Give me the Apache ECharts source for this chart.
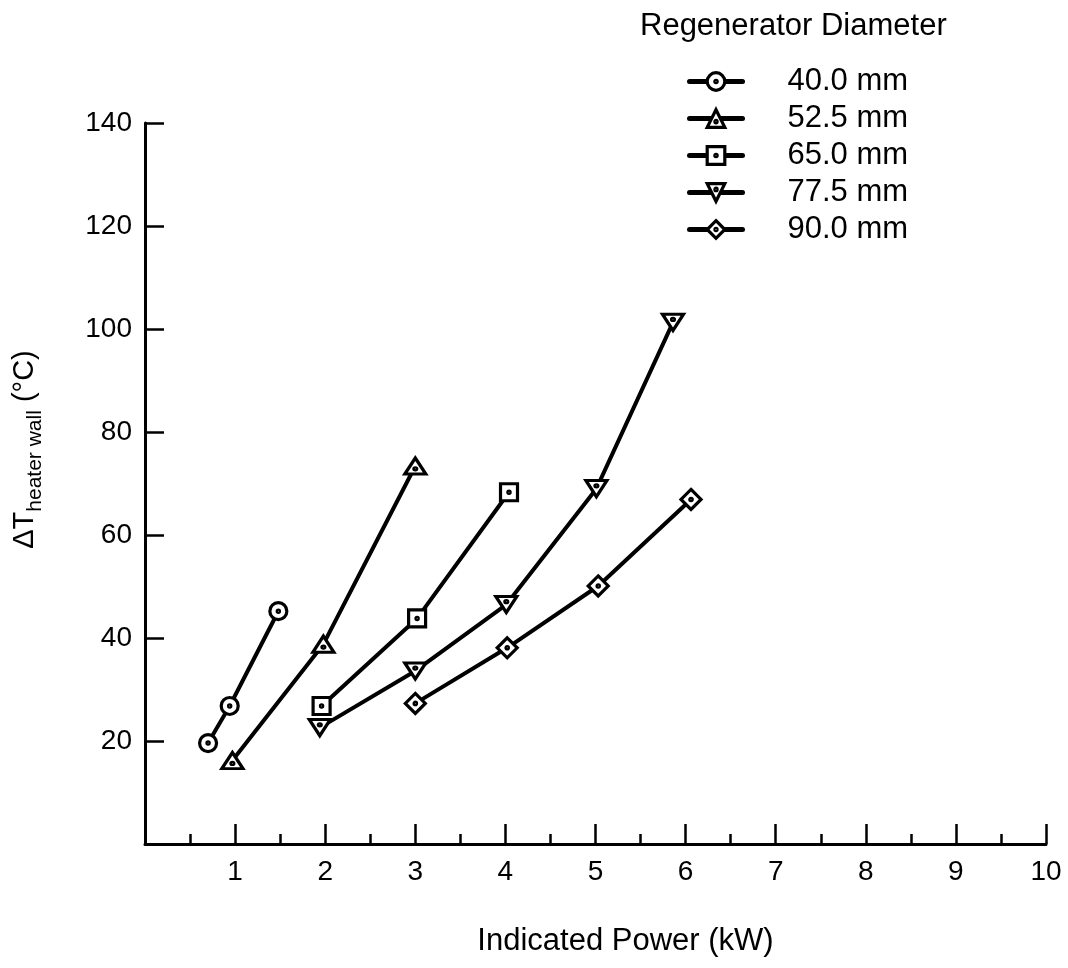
<!DOCTYPE html>
<html>
<head>
<meta charset="utf-8">
<script src="https://cdn.jsdelivr.net/npm/echarts@6/dist/echarts.min.js"></script>
<style>
  html, body { margin: 0; padding: 0; background: #fff; }
  #chart { width: 1068px; height: 968px; }
</style>
</head>
<body>
<div id="chart"></div>
<script>
// ---- Data ----
const seriesNames = ['40.0 mm', '52.5 mm', '65.0 mm', '77.5 mm', '90.0 mm'];

const power40 = [0.70, 0.94, 1.48];
const dT40    = [19.6, 26.8, 45.2];

const power52 = [0.97, 1.98, 3.00];
const dT52    = [16.2, 38.8, 73.4];

const power65 = [1.96, 3.02, 4.04];
const dT65    = [26.8, 43.8, 68.3];

const power77 = [1.94, 3.00, 4.01, 5.01, 5.86];
const dT77    = [22.6, 33.6, 46.5, 69.0, 101.3];

const power90 = [3.00, 4.02, 5.03, 6.06];
const dT90    = [27.3, 38.1, 50.1, 66.9];

const xTickLabels = ['1', '2', '3', '4', '5', '6', '7', '8', '9', '10'];
const yTickLabels = ['20', '40', '60', '80', '100', '120', '140'];

// ---- Marker shapes (outline + centre dot) ----
const dot = (cx, cy) => `M${cx - 1.2},${cy} A1.2,1.2 0 1,1 ${cx + 1.2},${cy} A1.2,1.2 0 1,1 ${cx - 1.2},${cy} Z`;
const symbols = [
  'path://M1,10 A9,9 0 1,1 19,10 A9,9 0 1,1 1,10 Z ' + dot(10, 10),
  'path://M10,1 L19.5,18 L0.5,18 Z ' + dot(10, 12.5),
  'path://M1,1 L19,1 L19,19 L1,19 Z ' + dot(10, 10),
  'path://M0.5,1 L19.5,1 L10,18 Z ' + dot(10, 6.5),
  'path://M10,0 L20,10 L10,20 L0,10 Z ' + dot(10, 10)
];
const symbolSizes = [17, [21, 18], 17, [21, 18], 20];

const xs = [power40, power52, power65, power77, power90];
const ys = [dT40, dT52, dT65, dT77, dT90];

const FONT = "'Liberation Sans', Arial, Helvetica, sans-serif";

const series = seriesNames.map((name, i) => ({
  name: name,
  type: 'line',
  data: xs[i].map((x, k) => [x, ys[i][k]]),
  symbol: symbols[i],
  symbolSize: symbolSizes[i],
  symbolKeepAspect: true,
  showAllSymbol: true,
  lineStyle: { color: '#000', width: 4 },
  itemStyle: { color: '#fff', borderColor: '#000', borderWidth: 3.2 },
  emphasis: { disabled: true },
  z: 3
}));

const chart = echarts.init(document.getElementById('chart'), null, { renderer: 'canvas' });
chart.setOption({
  animation: false,
  backgroundColor: '#fff',
  textStyle: { fontFamily: FONT, color: '#000' },
  title: {
    text: 'Regenerator Diameter',
    left: 635,
    top: 6,
    textStyle: { fontFamily: FONT, fontSize: 31, fontWeight: 'normal', color: '#000' }
  },
  legend: {
    data: seriesNames,
    orient: 'vertical',
    left: 682,
    top: 61,
    itemWidth: 53,
    itemHeight: 22,
    itemGap: 6,
    selectedMode: false,
    lineStyle: { color: '#000', width: 5, cap: 'round' },
    itemStyle: { color: '#fff', borderColor: '#000', borderWidth: 3.2 },
    textStyle: { fontFamily: FONT, fontSize: 31, color: '#000', padding: [0, 0, 0, 40] }
  },
  grid: { left: 145, right: 22, top: 123, bottom: 124, containLabel: false },
  xAxis: {
    type: 'value',
    min: 0, max: 10, interval: 1,
    name: 'Indicated Power (kW)',
    nameLocation: 'middle',
    nameGap: 82,
    nameTextStyle: { fontFamily: FONT, fontSize: 31, color: '#000', padding: [0, 0, 0, 60] },
    axisLine: { show: true, lineStyle: { color: '#000', width: 3 } },
    axisTick: { show: true, inside: true, length: 20, lineStyle: { color: '#000', width: 2.5 } },
    minorTick: { show: true, splitNumber: 2, length: 10, lineStyle: { color: '#000', width: 2.5 } },
    splitLine: { show: false },
    axisLabel: {
      fontFamily: FONT, fontSize: 28, color: '#000', margin: 14,
      formatter: v => (xTickLabels.indexOf(String(v)) >= 0 ? String(v) : '')
    }
  },
  yAxis: {
    type: 'value',
    min: 0, max: 140, interval: 20,
    name: '{a|ΔT}{b|heater wall}{a| (°C)}',
    nameLocation: 'middle',
    nameRotate: 90,
    nameGap: 99,
    nameTextStyle: {
      fontFamily: FONT, color: '#000', padding: [0, 0, 0, 68],
      rich: {
        a: { fontFamily: FONT, fontSize: 29, color: '#000', lineHeight: 42 },
        b: { fontFamily: FONT, fontSize: 21, color: '#000', verticalAlign: 'bottom', lineHeight: 24 }
      }
    },
    axisLine: { show: true, lineStyle: { color: '#000', width: 3 } },
    axisTick: { show: true, inside: true, length: 19, lineStyle: { color: '#000', width: 2.5 } },
    splitLine: { show: false },
    axisLabel: {
      fontFamily: FONT, fontSize: 28, color: '#000', margin: 13,
      formatter: v => (yTickLabels.indexOf(String(v)) >= 0 ? String(v) : '')
    }
  },
  series: series
});
</script>
</body>
</html>
